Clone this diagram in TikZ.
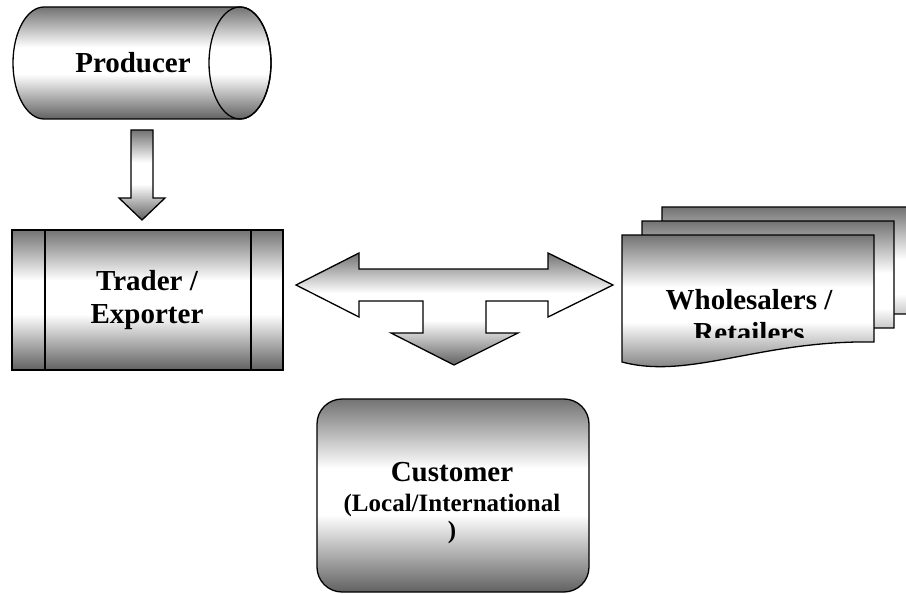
\documentclass[tikz,border=0pt]{standalone}
\usepackage{fontspec}
\setmainfont{Liberation Serif}
\pgfdeclareverticalshading{greyband}{100bp}{color(0bp)=(black!62); color(25bp)=(black!62); color(45bp)=(white); color(57bp)=(white); color(75bp)=(black!55); color(100bp)=(black!55)}
\tikzset{
  grad/.style={draw=black, line width=1.3pt, shading=greyband},
  boxtext/.style={font=\bfseries\fontsize{29}{33}\selectfont, align=center, inner sep=0pt}
}

\begin{document}
\begin{tikzpicture}[x=1pt,y=-1pt]
\clip (0,0) rectangle (906,594);
% producer
\shade[grad] (44,7) -- (240,7) arc[start angle=-90,end angle=90,x radius=31,y radius=56] -- (44,119) arc[start angle=90,end angle=270,x radius=31,y radius=56] -- cycle;
\draw[line width=1.3pt] (240,63) ellipse [x radius=31, y radius=56];
\node[boxtext] (producer) at (133,63) {Producer};
% arrow down
\shade[grad] (131,130) -- (153,130) -- (153,198) -- (165,198) -- (142,220) -- (119,198) -- (131,198) -- cycle;
% trader
\shade[grad] (12,230) rectangle (283,370);
\draw[line width=1.3pt] (45,230) -- (45,370) (251,230) -- (251,370);
\node[boxtext] (trader) at (147,300) {Trader /\\Exporter};
% three way arrow
\shade[grad] (296,285) -- (359,253) -- (359,269) -- (548,269) -- (548,253) -- (613,285) -- (548,317) -- (548,301) -- (486,301) -- (486,333) -- (518,333) -- (454,365) -- (391,333) -- (423,333) -- (423,301) -- (359,301) -- (359,317) -- cycle;
% wholesalers
\foreach \dx/\dy in {40/-28,20/-14,0/0}
  \shade[grad, shift={(\dx,\dy)}] (622,235) -- (874,235) -- (874,342) .. controls (760,340) and (690,380) .. (622,362) -- cycle;
\begin{scope}
\clip (622,235) rectangle (874,337);
\node[boxtext] (wholesaler) at (749,316) {Wholesalers /\\Retailers};
\end{scope}
% customer
\shade[grad, rounded corners=25pt] (317,399) rectangle (589,592);
\node[boxtext] (customer) at (452,503) {Customer\\[-3pt]{\fontsize{25}{27}\selectfont (Local/International}\\[-6pt]{\fontsize{25}{27}\selectfont )}};
\end{tikzpicture}
\end{document}
